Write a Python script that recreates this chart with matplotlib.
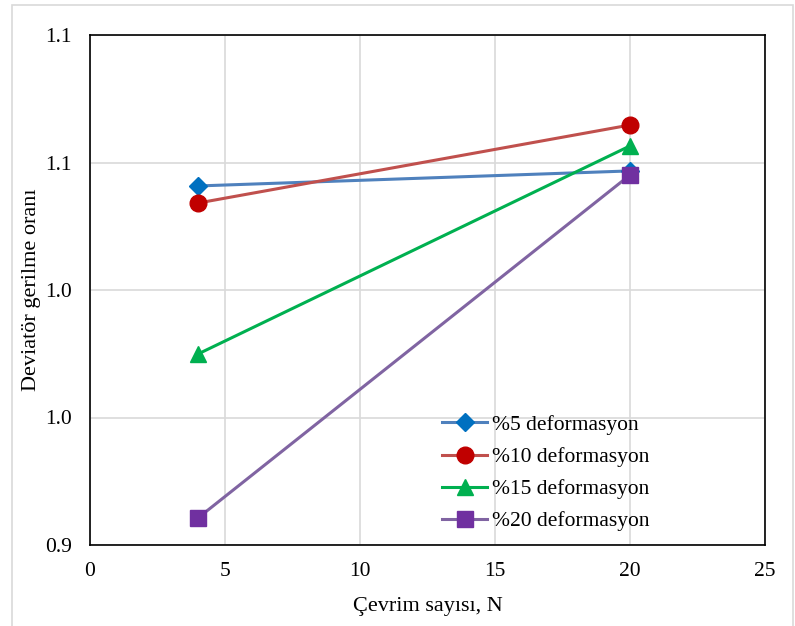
import numpy as np
import matplotlib.pyplot as plt
from matplotlib.ticker import FuncFormatter
from matplotlib.patches import Rectangle

# cycle counts and deviator stress ratios for each strain level
N = [4, 20]
d5 = [1.0408, 1.0467]
d10 = [1.0341, 1.0647]
d15 = [0.9749, 1.0565]
d20 = [0.9106, 1.0451]

series = [
    ("%5 deformasyon", d5, "#4F81BD", "#0070C0", "D", 9),
    ("%10 deformasyon", d10, "#C0504D", "#C00000", "o", 12),
    ("%15 deformasyon", d15, "#00B050", "#00B050", "^", 11),
    ("%20 deformasyon", d20, "#8064A2", "#7030A0", "s", 11),
]

plt.rcParams['font.family'] = ['Liberation Serif', 'DejaVu Serif']

fig = plt.figure(figsize=(7.95, 6.26), dpi=100)
ax = fig.add_axes([90/795, 1-545/626, 675/795, 510/626])

# light outer chart border
fig.patches.append(Rectangle((12/795, -0.01), 781/795, 1-5/626+0.01,
                             transform=fig.transFigure, fill=False,
                             edgecolor="#D9D9D9", lw=1.2))

for name, y, lc, mc, mk, ms in series:
    ax.plot(N, y, color=lc, lw=2.2, marker=mk, markersize=ms,
            markerfacecolor=mc, markeredgecolor=mc, label=name)

ax.set_xlim(0, 25)
ax.set_ylim(0.9, 1.1)
ax.set_xticks(np.arange(0, 26, 5))
ax.set_yticks([0.9, 0.95, 1.0, 1.05, 1.1])
ax.yaxis.set_major_formatter(FuncFormatter(lambda v, p: f"{round(v + 1e-9, 1):.1f}"))
ax.grid(True, color="#D9D9D9", lw=1.2)
ax.set_axisbelow(True)
ax.tick_params(length=0, labelsize=15.5)
ax.tick_params(axis="y", pad=13)
ax.tick_params(axis="x", pad=12)
for s in ax.spines.values():
    s.set_color("black")
    s.set_linewidth(1.2)

ax.set_xlabel("Çevrim sayısı, N", fontsize=16, labelpad=12)
ax.set_ylabel("Deviatör gerilme oranı", fontsize=16, labelpad=3)

leg = ax.legend(loc="center left", bbox_to_anchor=(0.5215, 0.141), frameon=False,
                fontsize=15.5, handlelength=2.1, handletextpad=0.2,
                labelspacing=0.56, borderaxespad=0, borderpad=0)

fig.savefig("out.png", dpi=100)
